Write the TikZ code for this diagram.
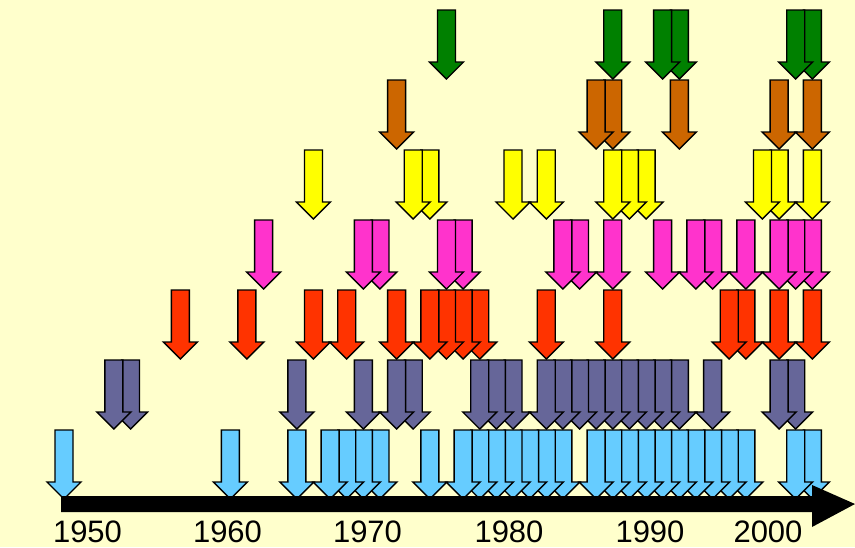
\documentclass[tikz,border=0pt]{standalone}
\usepackage{fontspec}
\setmainfont{Liberation Sans}
\definecolor{bgyellow}{HTML}{FFFFCC}
\definecolor{skyb}{HTML}{66CCFF}
\definecolor{slatep}{HTML}{666699}
\definecolor{redor}{HTML}{FF3300}
\definecolor{magen}{HTML}{FF33CC}
\definecolor{yell}{HTML}{FFFF00}
\definecolor{browno}{HTML}{CC6600}
\definecolor{greenk}{HTML}{008000}
\newcommand\arrowrow[3]{\foreach \k in {#3}{\pic at ({64+16.63*\k},#1) {downarrow=#2};}}
\begin{document}
\begin{tikzpicture}[x=1pt,y=-1pt,
  arrowline/.style={draw=black,line width=1.4pt,line join=miter},
  yearlabel/.style={font=\fontsize{31}{31}\selectfont,anchor=base,inner sep=0pt,text=black,text depth=0pt,text height=22pt},
  downarrow/.pic={\path[arrowline,fill=#1] (-9,0) -- (-9,52) -- (-17,52) -- (0,69) -- (17,52) -- (9,52) -- (9,0) -- cycle;}
]
\fill[bgyellow] (0,0) rectangle (855,547);
\useasboundingbox (0,0) rectangle (855,547);

\arrowrow{10}{greenk}{45,44,37,36,33,23}
\arrowrow{80}{browno}{45,43,37,33,32,20}
\arrowrow{150}{yell}{45,43,42,35,34,33,29,27,22,21,15}
\arrowrow{220}{magen}{45,44,43,41,39,38,36,33,31,30,24,23,19,18,12}
\arrowrow{290}{redor}{45,43,41,40,33,29,25,24,23,22,20,17,15,11,7}
\arrowrow{360}{slatep}{44,43,39,37,36,35,34,33,32,31,30,29,27,26,25,21,20,18,14,4,3}
\arrowrow{430}{skyb}{45,44,41,40,39,38,37,36,35,34,33,32,30,29,28,27,26,25,24,22,19,18,17,16,14,10,0}

\fill[black] (61,496) -- (812,496) -- (812,485) -- (855,504) -- (812,527) -- (812,512) -- (61,512) -- cycle;

\node[yearlabel] (y1950) at (87.5,542.5) {1950};
\node[yearlabel] (y1960) at (227.5,542.5) {1960};
\node[yearlabel] (y1970) at (367.5,542.5) {1970};
\node[yearlabel] (y1980) at (509,542.5) {1980};
\node[yearlabel] (y1990) at (650,542.5) {1990};
\node[yearlabel] (y2000) at (768,542.5) {2000};
\end{tikzpicture}
\end{document}
